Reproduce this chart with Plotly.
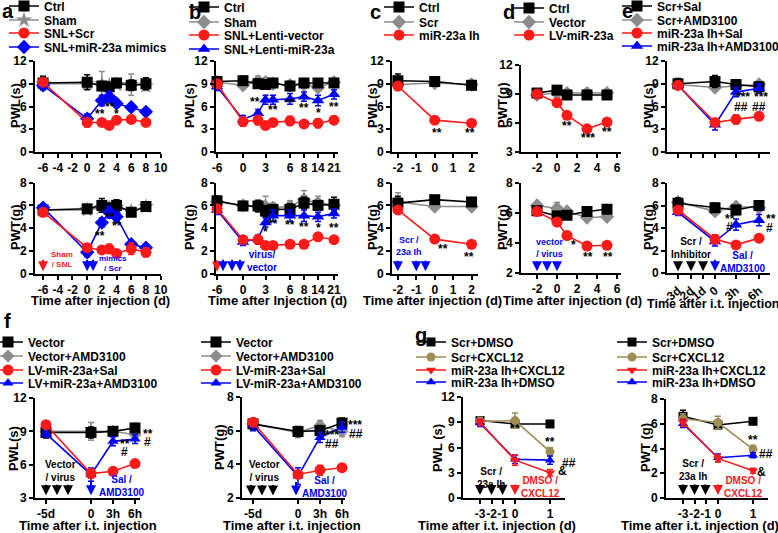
import numpy as np
import plotly.graph_objects as go

W, H = 778, 533
BLACK = '#000000'; GRAY = '#8c8c8c'; RED = '#ff1a1a'; BLUE = '#0000ff'; OLIVE = '#9d8d55'

# ---------------- DATA ----------------
# panel a
a_days = [-6, 0, 2, 3, 4, 6, 8]
a_pwl_ctrl = [9.1, 9.2, 8.7, 8.6, 9.1, 8.8, 9.0]
a_pwl_sham = [9.0, 9.0, 9.0, 8.8, 8.9, 8.9, 8.7]
a_pwl_scr = [9.2, 3.9, 3.9, 3.5, 4.2, 4.3, 3.9]
a_pwl_mim = [8.8, 4.4, 6.8, 7.3, 6.4, 5.9, 5.3]
a_pwl_ctrl_e = [0.9, 1.0, 0.6, 0.5, 0.4, 0.7, 0.8]
a_pwl_sham_e = [0.8, 0.6, 1.6, 0.5, 0.5, 1.4, 0.6]
a_pwl_scr_e = [0.4, 0.6, 0.4, 0.4, 0.4, 0.5, 0.4]
a_pwl_mim_e = [0.5, 0.6, 0.7, 0.6, 0.5, 0.4, 0.4]
a_pwt_ctrl = [5.6, 5.7, 6.0, 5.7, 6.0, 5.4, 5.9]
a_pwt_sham = [5.6, 5.6, 5.8, 5.8, 5.8, 5.5, 5.9]
a_pwt_scr = [5.4, 2.3, 2.1, 2.2, 1.8, 2.2, 1.9]
a_pwt_mim = [5.8, 1.9, 4.5, 5.4, 5.0, 2.6, 2.3]
a_pwt_ctrl_e = [0.3, 0.3, 0.6, 0.5, 0.5, 0.3, 0.4]
a_pwt_sham_e = [0.3, 0.3, 0.4, 0.4, 0.4, 0.3, 0.3]
a_pwt_scr_e = [0.3, 0.3, 0.2, 0.4, 0.2, 0.5, 0.4]
a_pwt_mim_e = [0.3, 0.4, 0.4, 0.5, 0.4, 0.3, 0.3]

# panel b
b_days = [-6, 0, 2, 3, 4, 6, 8, 14, 21]
b_ticks = [-6, 0, 3, 6, 8, 14, 21]
b_pwl_ctrl = [9.3, 9.4, 9.0, 8.9, 9.1, 8.7, 9.1, 9.1, 9.1]
b_pwl_sham = [9.2, 8.8, 9.3, 9.2, 9.0, 8.8, 8.9, 8.5, 9.2]
b_pwl_vec = [9.0, 4.0, 4.2, 3.5, 3.9, 4.1, 3.7, 3.8, 4.2]
b_pwl_mir = [8.6, 4.3, 5.1, 6.9, 6.9, 7.0, 7.3, 6.8, 7.6]
b_pwl_ctrl_e = [0.5, 0.6, 0.6, 0.6, 0.4, 0.6, 0.5, 0.5, 0.5]
b_pwl_sham_e = [0.5, 0.4, 0.7, 0.6, 0.5, 0.4, 0.5, 0.5, 0.5]
b_pwl_vec_e = [0.4, 0.6, 0.6, 0.5, 0.5, 0.6, 0.4, 0.6, 0.5]
b_pwl_mir_e = [0.5, 0.5, 0.5, 0.6, 0.6, 0.7, 0.6, 0.7, 0.6]
b_pwt_ctrl = [6.4, 5.95, 5.95, 5.5, 5.65, 5.65, 6.2, 6.0, 6.1]
b_pwt_sham = [6.3, 6.0, 5.9, 5.9, 5.8, 5.9, 6.5, 6.2, 6.0]
b_pwt_vec = [5.7, 3.0, 3.0, 2.5, 2.5, 2.6, 2.6, 3.25, 3.0]
b_pwt_mir = [5.6, 2.8, 3.1, 4.5, 5.1, 5.1, 5.1, 5.0, 5.3]
b_pwt_ctrl_e = [0.4, 0.3, 0.5, 0.5, 0.4, 0.5, 0.5, 0.4, 0.6]
b_pwt_sham_e = [0.4, 0.3, 0.4, 0.9, 0.4, 0.5, 0.8, 0.6, 0.5]
b_pwt_vec_e = [0.3, 0.3, 0.4, 0.3, 0.2, 0.3, 0.3, 0.3, 0.3]
b_pwt_mir_e = [0.4, 0.3, 0.3, 0.4, 0.5, 0.5, 0.5, 0.4, 0.4]

# panel c
c_days = [-2, 0, 2]
c_pwl_ctrl = [9.4, 9.3, 8.8]
c_pwl_scr = [8.9, 9.1, 8.9]
c_pwl_ih = [8.7, 4.2, 3.8]
c_pwl_ctrl_e = [0.9, 0.4, 0.4]
c_pwl_scr_e = [0.8, 0.5, 0.4]
c_pwl_ih_e = [0.4, 0.4, 0.4]
c_pwt_ctrl = [6.2, 6.5, 6.3]
c_pwt_scr = [6.3, 5.9, 5.9]
c_pwt_ih = [5.6, 3.05, 2.6]
c_pwt_ctrl_e = [0.6, 0.3, 0.3]
c_pwt_scr_e = [0.8, 0.3, 0.3]
c_pwt_ih_e = [0.3, 0.3, 0.3]

# panel d
d_days = [-2, 0, 1, 3, 5]
d_top_ctrl = [9.1, 9.4, 8.9, 8.9, 8.9]
d_top_vec = [8.9, 9.1, 9.1, 9.1, 9.1]
d_top_lv = [9.0, 8.1, 6.8, 5.4, 6.1]
d_top_ctrl_e = [0.3, 0.3, 0.3, 0.3, 0.3]
d_top_vec_e = [0.3, 0.4, 0.3, 0.3, 0.3]
d_top_lv_e = [0.3, 0.3, 0.3, 0.3, 0.3]
d_pwt_ctrl = [6.15, 5.8, 5.85, 6.1, 6.25]
d_pwt_vec = [6.5, 6.3, 6.1, 5.7, 5.75]
d_pwt_lv = [6.1, 5.4, 4.5, 3.8, 3.85]
d_pwt_ctrl_e = [0.2, 0.3, 0.2, 0.2, 0.2]
d_pwt_vec_e = [0.2, 0.4, 0.2, 0.2, 0.2]
d_pwt_lv_e = [0.2, 0.2, 0.2, 0.2, 0.2]

# panel e
e_ticks = ['-3d', '-2d', '-1d', '0', '3h', '6h']
e_times = ['-3d', '0', '3h', '6h']
e_pwl_ss = [9.0, 9.3, 8.9, 8.6]
e_pwl_sa = [8.9, 8.5, 8.7, 8.9]
e_pwl_is = [8.8, 3.9, 4.3, 4.7]
e_pwl_ia = [8.8, 3.6, 7.9, 8.4]
e_pwl_ss_e = [0.7, 0.8, 0.5, 0.6]
e_pwl_sa_e = [0.6, 0.5, 0.5, 0.5]
e_pwl_is_e = [0.4, 0.5, 0.6, 0.4]
e_pwl_ia_e = [0.4, 0.7, 0.6, 0.6]
e_pwt_ss = [6.2, 5.8, 5.6, 6.0]
e_pwt_sa = [6.3, 5.5, 5.9, 5.8]
e_pwt_is = [5.6, 3.0, 2.5, 3.1]
e_pwt_ia = [5.4, 2.8, 4.3, 4.7]
e_pwt_ss_e = [0.5, 0.4, 0.4, 0.4]
e_pwt_sa_e = [0.3, 0.3, 0.3, 0.3]
e_pwt_is_e = [0.3, 0.4, 0.2, 0.3]
e_pwt_ia_e = [0.3, 0.4, 0.5, 0.5]

# panel f
f_times = ['-5d', '0', '3h', '6h']
f_pwl_vec = [8.9, 8.9, 9.0, 9.3]
f_pwl_va = [9.0, 9.0, 9.0, 8.7]
f_pwl_ls = [9.6, 5.2, 5.4, 6.1]
f_pwl_la = [8.8, 5.1, 8.1, 8.3]
f_pwl_vec_e = [0.5, 0.5, 0.3, 0.4]
f_pwl_va_e = [0.4, 0.8, 0.4, 0.4]
f_pwl_ls_e = [0.3, 0.4, 0.3, 0.3]
f_pwl_la_e = [0.3, 0.6, 0.4, 0.4]
f_pwt_vec = [6.4, 5.95, 6.0, 6.45]
f_pwt_va = [6.4, 5.9, 6.3, 5.95]
f_pwt_ls = [6.5, 3.4, 3.65, 3.8]
f_pwt_la = [6.3, 3.3, 5.6, 6.2]
f_pwt_vec_e = [0.3, 0.3, 0.3, 0.3]
f_pwt_va_e = [0.3, 0.3, 0.3, 0.3]
f_pwt_ls_e = [0.2, 0.2, 0.3, 0.2]
f_pwt_la_e = [0.3, 0.5, 0.3, 0.3]

# panel g
g_ticks = [-3, -2, -1, 0, 1]
g_days = [-3, 0, 1]
g_pwl_sd = [9.2, 8.8, 8.8]
g_pwl_sc = [9.1, 9.2, 5.5]
g_pwl_ic = [9.0, 4.5, 3.0]
g_pwl_id = [8.9, 4.6, 4.5]
g_pwl_sd_e = [0.4, 0.5, 0.3]
g_pwl_sc_e = [0.5, 0.9, 0.5]
g_pwl_ic_e = [0.4, 0.6, 0.4]
g_pwl_id_e = [0.4, 0.5, 0.5]
g_pwt_sd = [6.6, 5.9, 6.2]
g_pwt_sc = [6.4, 6.1, 3.95]
g_pwt_ic = [6.1, 3.2, 2.2]
g_pwt_id = [6.0, 3.25, 3.45]
g_pwt_sd_e = [0.5, 0.3, 0.2]
g_pwt_sc_e = [0.4, 0.5, 0.3]
g_pwt_ic_e = [0.3, 0.3, 0.2]
g_pwt_id_e = [0.3, 0.3, 0.2]

# ---------------- SCALES (axis position of each time point) ----------------
B_KNOT_DAYS = [-6, 0, 4, 6, 8, 14, 21]
B_KNOT_POS = [1, 27, 57, 74, 88, 102, 118]
def bpos(d):
    return list(np.interp(d, B_KNOT_DAYS, B_KNOT_POS))
E_POS = {'-3d': 11, '-2d': 24, '-1d': 36, '0': 48, '3h': 69, '6h': 92}
F_POS = {'-5d': 11, '0': 56, '3h': 78, '6h': 100}
G_POS = {-3: 17, -2: 28.5, -1: 39.5, 0: 52, 1: 87}

# ---------------- FIGURE ----------------
fig = go.Figure()
layout = {}
annotations = []
nax = [0]
nleg = [0]

def add_axes(xpx, ypx, xrange, yrange, xtv, xtt, ytv, tickangle=0, xlabels=True):
    nax[0] += 1
    s = '' if nax[0] == 1 else str(nax[0])
    common = dict(showline=True, linecolor='black', linewidth=2, ticks='outside', ticklen=4,
                  tickwidth=2, tickcolor='black', showgrid=False, zeroline=False,
                  tickfont=dict(size=12, color='black'), fixedrange=True)
    layout['xaxis' + s] = dict(domain=[xpx[0] / W, xpx[1] / W], range=xrange, anchor='y' + s,
                               tickmode='array', tickvals=xtv, ticktext=xtt, tickangle=tickangle,
                               showticklabels=xlabels, **common)
    layout['yaxis' + s] = dict(domain=[1 - ypx[1] / H, 1 - ypx[0] / H], range=yrange, anchor='x' + s,
                               tickmode='array', tickvals=ytv, ticktext=[str(v) for v in ytv],
                               tickangle=0, **common)
    return 'x' + s, 'y' + s

def series(ax, x, y, err, name, color, symbol, size, leg=None):
    xa, ya = ax
    kw = dict(showlegend=False)
    if leg is not None:
        nleg[0] += 1
        lid = 'legend' if nleg[0] == 1 else 'legend%d' % nleg[0]
        tx, ry = leg
        layout[lid] = dict(x=(tx - 39) / W, y=1 - (ry - 14.5) / H, xanchor='left', yanchor='top',
                           bgcolor='rgba(0,0,0,0)', borderwidth=0, font=dict(size=12, color='black'),
                           itemclick=False, itemdoubleclick=False)
        kw = dict(showlegend=True, legend=lid)
    fig.add_trace(go.Scatter(x=x, y=y, name=name, mode='lines+markers', xaxis=xa, yaxis=ya,
                             line=dict(color=color, width=1.6),
                             marker=dict(symbol=symbol, size=size, color=color, line=dict(width=0)),
                             error_y=dict(type='data', array=err, color=color, thickness=1.5, width=3),
                             cliponaxis=False, hoverinfo='skip', **kw))

def txt(ax, x, y, t, color='black', size=12, xanchor='center'):
    annotations.append(dict(xref=ax[0], yref=ax[1], x=x, y=y, text=t, showarrow=False,
                            font=dict(color=color, size=size), xanchor=xanchor, yanchor='middle'))

def txt_px(xp, yp, t, color='black', size=12, xanchor='center', angle=0):
    annotations.append(dict(xref='paper', yref='paper', x=xp / W, y=1 - yp / H, text=t, showarrow=False,
                            font=dict(color=color, size=size), xanchor=xanchor, yanchor='middle',
                            textangle=angle))

def arrow(ax, x, ytip, length, color):
    annotations.append(dict(xref=ax[0], yref=ax[1], x=x, y=ytip, ax=0, ay=-length, text='',
                            showarrow=True, arrowhead=2, arrowsize=1, arrowwidth=2, arrowcolor=color))

# ----- panel a -----
A_X = (35, 161)
a_xt = [-6, -4, -2, 0, 2, 4, 6, 8, 10]
aT = add_axes(A_X, (61, 152), [-7.1, 10.05], [0, 12], a_xt, [str(v) for v in a_xt], [0, 3, 6, 9, 12])
aB = add_axes(A_X, (182.5, 274), [-7.1, 10.05], [0, 8], a_xt, [str(v) for v in a_xt], [0, 2, 4, 6, 8])
series(aT, a_days, a_pwl_sham, a_pwl_sham_e, 'Sham', GRAY, 'star', 12, (43, 20))
series(aT, a_days, a_pwl_ctrl, a_pwl_ctrl_e, 'Ctrl', BLACK, 'square', 11, (43, 6))
series(aT, a_days, a_pwl_mim, a_pwl_mim_e, 'SNL+miR-23a mimics', BLUE, 'diamond', 11, (43, 47))
series(aT, a_days, a_pwl_scr, a_pwl_scr_e, 'SNL+Scr', RED, 'circle', 11, (43, 33))
series(aB, a_days, a_pwt_sham, a_pwt_sham_e, 'Sham', GRAY, 'star', 12)
series(aB, a_days, a_pwt_ctrl, a_pwt_ctrl_e, 'Ctrl', BLACK, 'square', 11)
series(aB, a_days, a_pwt_mim, a_pwt_mim_e, 'SNL+miR-23a mimics', BLUE, 'diamond', 11)
series(aB, a_days, a_pwt_scr, a_pwt_scr_e, 'SNL+Scr', RED, 'circle', 11)
txt(aT, 1.8, 5.0, '**'); txt(aT, 3.1, 5.9, '**'); txt(aT, 4.0, 5.0, '*')
txt(aB, 1.8, 3.3, '**'); txt(aB, 3.1, 4.95, '**'); txt(aB, 4.1, 4.2, '**')
arrow(aB, -6, 0.25, 13, RED); arrow(aB, 0, 0.25, 13, BLUE); arrow(aB, 0.8, 0.25, 13, BLUE)
txt(aB, -5.2, 1.25, 'Sham<br>/ SNL', RED, 8, 'left')
txt(aB, 1.4, 0.95, 'mimics<br>/ Scr', BLUE, 8, 'left')
txt_px(15, 106, 'PWL(s)', angle=-90, size=13)
txt_px(15, 228, 'PWT(g)', angle=-90, size=13)
txt_px(100, 300, 'Time after injection (d)', size=13)
txt_px(8, 10.5, 'a', size=20)

# ----- panel b -----
B_X = (216, 338)
bT = add_axes(B_X, (61, 152), [0, 122], [0, 12], bpos(b_ticks), [str(v) for v in b_ticks], [0, 3, 6, 9, 12])
bB = add_axes(B_X, (182.5, 274), [0, 122], [0, 8], bpos(b_ticks), [str(v) for v in b_ticks], [0, 2, 4, 6, 8])
bx = bpos(b_days)
series(bT, bx, b_pwl_sham, b_pwl_sham_e, 'Sham', GRAY, 'diamond', 11, (223, 22))
series(bT, bx, b_pwl_ctrl, b_pwl_ctrl_e, 'Ctrl', BLACK, 'square', 11, (223, 7))
series(bT, bx, b_pwl_mir, b_pwl_mir_e, 'SNL+Lenti-miR-23a', BLUE, 'triangle-up', 11, (223, 49))
series(bT, bx, b_pwl_vec, b_pwl_vec_e, 'SNL+Lenti-vector', RED, 'circle', 11, (223, 35))
series(bB, bx, b_pwt_sham, b_pwt_sham_e, 'Sham', GRAY, 'diamond', 11)
series(bB, bx, b_pwt_ctrl, b_pwt_ctrl_e, 'Ctrl', BLACK, 'square', 11)
series(bB, bx, b_pwt_mir, b_pwt_mir_e, 'SNL+Lenti-miR-23a', BLUE, 'triangle-up', 11)
series(bB, bx, b_pwt_vec, b_pwt_vec_e, 'SNL+Lenti-vector', RED, 'circle', 11)
for (p, y, t) in [(39, 6.6, '**'), (57, 5.5, '**'), (74, 6.5, '**'), (88, 5.75, '**'), (102, 5.2, '*'), (118, 5.9, '**')]:
    txt(bT, p, y, t)
for (p, y, t) in [(49, 3.7, '*'), (57, 4.4, '**'), (74, 4.3, '**'), (88, 4.1, '**'), (102, 4.05, '*'), (118, 4.0, '**')]:
    txt(bB, p, y, t)
arrow(bB, 1, 0.2, 13, RED)
for p in [7, 16, 24]:
    arrow(bB, p, 0.25, 13, BLUE)
txt(bB, -3, 2.3, 'SNL /<br>Sham', RED, 10, 'left')
txt(bB, 29, 1.15, 'virus/<br>vector', BLUE, 10, 'left')
txt_px(189, 106, 'PWL(s)', angle=-90, size=13)
txt_px(189, 228, 'PWT(g)', angle=-90, size=13)
txt_px(277, 300, 'Time after Injection (d)', size=13)
txt_px(195, 12, 'b', size=20)

# ----- panel c -----
C_X = (392, 478)
c_xt = [-2, -1, 0, 1, 2]
cT = add_axes(C_X, (61, 152), [-2.32, 2.35], [0, 12], c_xt, [str(v) for v in c_xt], [0, 3, 6, 9, 12])
cB = add_axes(C_X, (182.5, 274), [-2.32, 2.35], [0, 8], c_xt, [str(v) for v in c_xt], [0, 2, 4, 6, 8])
series(cT, c_days, c_pwl_scr, c_pwl_scr_e, 'Scr', GRAY, 'diamond', 11, (418, 22))
series(cT, c_days, c_pwl_ctrl, c_pwl_ctrl_e, 'Ctrl', BLACK, 'square', 11, (418, 7))
series(cT, c_days, c_pwl_ih, c_pwl_ih_e, 'miR-23a Ih', RED, 'circle', 11, (418, 35))
series(cB, c_days, c_pwt_scr, c_pwt_scr_e, 'Scr', GRAY, 'diamond', 11)
series(cB, c_days, c_pwt_ctrl, c_pwt_ctrl_e, 'Ctrl', BLACK, 'square', 11)
series(cB, c_days, c_pwt_ih, c_pwt_ih_e, 'miR-23a Ih', RED, 'circle', 11)
txt(cT, 0.1, 2.5, '**'); txt(cT, 1.9, 2.5, '**')
txt(cB, 0.45, 2.2, '**'); txt(cB, 1.85, 1.45, '**')
for x in [-2, -1, -0.5]:
    arrow(cB, x, 0.25, 12, BLUE)
txt(cB, -2.2, 2.45, 'Scr /<br>23a Ih', BLUE, 9, 'left')
txt_px(372, 106, 'PWL(s)', angle=-90, size=13)
txt_px(372, 228, 'PWT(g)', angle=-90, size=13)
txt_px(432, 300, 'Time after injection (d)', size=13)
txt_px(375, 12, 'c', size=20)

# ----- panel d -----
D_X = (521, 621)
d_xt = [-2, 0, 2, 4, 6]
dT = add_axes(D_X, (65, 152), [-3.6, 6.4], [3, 12], d_xt, [str(v) for v in d_xt], [3, 6, 9, 12])
dB = add_axes(D_X, (183, 273), [-3.6, 6.4], [2, 8], d_xt, [str(v) for v in d_xt], [2, 4, 6, 8])
series(dT, d_days, d_top_vec, d_top_vec_e, 'Vector', GRAY, 'diamond', 11, (548, 22))
series(dT, d_days, d_top_ctrl, d_top_ctrl_e, 'Ctrl', BLACK, 'square', 11, (548, 8))
series(dT, d_days, d_top_lv, d_top_lv_e, 'LV-miR-23a', RED, 'circle', 11, (548, 35))
series(dB, d_days, d_pwt_vec, d_pwt_vec_e, 'Vector', GRAY, 'diamond', 11)
series(dB, d_days, d_pwt_ctrl, d_pwt_ctrl_e, 'Ctrl', BLACK, 'square', 11)
series(dB, d_days, d_pwt_lv, d_pwt_lv_e, 'LV-miR-23a', RED, 'circle', 11)
txt(dT, 1.0, 5.7, '**'); txt(dT, 3.1, 4.5, '***'); txt(dT, 5.0, 5.1, '**')
txt(dB, 1.6, 3.9, '*'); txt(dB, 3.1, 3.1, '**'); txt(dB, 5.1, 3.1, '**')
for x in [-2, -1, 0]:
    arrow(dB, x, 2.12, 11, BLUE)
txt(dB, -2.3, 3.7, 'vector<br>/ virus', BLUE, 9, 'left')
txt_px(502, 106, 'PWT(g)', angle=-90, size=13)
txt_px(502, 228, 'PWT(g)', angle=-90, size=13)
txt_px(572, 300, 'Time after injection (d)', size=13)
txt_px(509, 12, 'd', size=20)

# ----- panel e -----
E_X = (667, 770)
e_tv = [E_POS[t] for t in e_ticks]
eT = add_axes(E_X, (61, 152), [0, 103], [0, 12], e_tv, e_ticks, [0, 3, 6, 9, 12], xlabels=False)
eB = add_axes(E_X, (183, 273), [0, 103], [0, 8], e_tv, e_ticks, [0, 2, 4, 6, 8], tickangle=-40)
ex = [E_POS[t] for t in e_times]
series(eT, ex, e_pwl_sa, e_pwl_sa_e, 'Scr+AMD3100', GRAY, 'diamond', 11, (656, 20))
series(eT, ex, e_pwl_ss, e_pwl_ss_e, 'Scr+Sal', BLACK, 'square', 11, (656, 6))
series(eT, ex, e_pwl_ia, e_pwl_ia_e, 'miR-23a Ih+AMD3100', BLUE, 'triangle-up', 11, (656, 46))
series(eT, ex, e_pwl_is, e_pwl_is_e, 'miR-23a Ih+Sal', RED, 'circle', 11, (656, 33))
series(eB, ex, e_pwt_sa, e_pwt_sa_e, 'Scr+AMD3100', GRAY, 'diamond', 11)
series(eB, ex, e_pwt_ss, e_pwt_ss_e, 'Scr+Sal', BLACK, 'square', 11)
series(eB, ex, e_pwt_ia, e_pwt_ia_e, 'miR-23a Ih+AMD3100', BLUE, 'triangle-up', 11)
series(eB, ex, e_pwt_is, e_pwt_is_e, 'miR-23a Ih+Sal', RED, 'circle', 11)
txt(eT, 76, 7.3, '***'); txt(eT, 74, 6.0, '##'); txt(eT, 94, 7.3, '***'); txt(eT, 92, 6.0, '##')
txt(eB, 63, 4.8, '**'); txt(eB, 62, 4.1, '#')
txt_px(771, 219, '**'); txt_px(769, 228, '#')
for t in ['-3d', '-2d', '-1d']:
    arrow(eB, E_POS[t], 0.15, 10, BLACK)
arrow(eB, E_POS['0'], 0.15, 13, BLUE)
txt(eB, 2, 2.2, 'Scr /<br>Inhibitor', BLACK, 10, 'left')
txt(eB, 51, 1.0, 'Sal /<br>AMD3100', BLUE, 10, 'left')
txt_px(648, 106, 'PWL(s)', angle=-90, size=13)
txt_px(648, 228, 'PWT(g)', angle=-90, size=13)
txt_px(713, 304, 'Time after i.t. injection', size=12.5)
txt_px(627, 10.5, 'e', size=20)

# ----- panel f -----
f_tv = [F_POS[t] for t in f_times]
fL = add_axes((35, 140), (398, 498), [0, 105], [3, 12], f_tv, f_times, [3, 6, 9, 12])
fR = add_axes((242, 345), (397, 498), [0, 103], [2, 8], f_tv, f_times, [2, 4, 6, 8])
fx = [F_POS[t] for t in f_times]
series(fL, fx, f_pwl_va, f_pwl_va_e, 'Vector+AMD3100', GRAY, 'diamond', 10, (27, 356))
series(fL, fx, f_pwl_vec, f_pwl_vec_e, 'Vector', BLACK, 'square', 11, (27, 342))
series(fL, fx, f_pwl_la, f_pwl_la_e, 'LV+miR-23a+AMD3100', BLUE, 'triangle-up', 10, (27, 383))
series(fL, fx, f_pwl_ls, f_pwl_ls_e, 'LV-miR-23a+Sal', RED, 'circle', 11, (27, 370))
series(fR, fx, f_pwt_va, f_pwt_va_e, 'Vector+AMD3100', GRAY, 'diamond', 10, (235, 356))
series(fR, fx, f_pwt_vec, f_pwt_vec_e, 'Vector', BLACK, 'square', 11, (235, 342))
series(fR, fx, f_pwt_la, f_pwt_la_e, 'LV-miR-23a+AMD3100', BLUE, 'triangle-up', 10, (235, 383))
series(fR, fx, f_pwt_ls, f_pwt_ls_e, 'LV-miR-23a+Sal', RED, 'circle', 11, (235, 370))
txt(fL, 90, 7.9, '**'); txt(fL, 89, 7.1, '#')
txt_px(148, 434, '**'); txt_px(147, 442, '#')
txt(fR, 90, 5.75, '***'); txt(fR, 90, 5.2, '##')
txt_px(355, 425, '***'); txt_px(356, 434, '##')
for p in [11, 22, 33]:
    arrow(fL, p, 3.25, 12, BLACK)
    arrow(fR, p - 2, 2.15, 12, BLACK)
arrow(fL, F_POS['0'], 3.25, 15, BLUE)
arrow(fR, F_POS['0'] - 2, 2.15, 15, BLUE)
txt(fL, 8, 5.4, 'Vector<br>/ virus', BLACK, 10, 'left')
txt(fL, 62, 4.05, 'Sal /<br>AMD3100', BLUE, 10, 'left')
txt(fR, 5, 3.6, 'Vector<br>/ virus', BLACK, 10, 'left')
txt(fR, 58, 2.65, 'Sal /<br>AMD3100', BLUE, 10, 'left')
txt_px(13, 448, 'PWL(s)', angle=-90, size=13)
txt_px(219, 448, 'PWT(g)', angle=-90, size=13)
txt_px(88, 525, 'Time after i.t. injection', size=13)
txt_px(292, 525, 'Time after i.t. injection', size=13)
txt_px(8, 321, 'f', size=20)

# ----- panel g -----
g_tv = [G_POS[t] for t in g_ticks]
gL = add_axes((463, 565), (397, 498), [0, 102], [0, 12], g_tv, [str(v) for v in g_ticks], [0, 3, 6, 9, 12])
gR = add_axes((666, 768), (399, 498), [0, 102], [0, 8], g_tv, [str(v) for v in g_ticks], [0, 2, 4, 6, 8])
gx = [G_POS[d] for d in g_days]
for ax, vals, errs, lx in [(gL, (g_pwl_sd, g_pwl_sc, g_pwl_ic, g_pwl_id), (g_pwl_sd_e, g_pwl_sc_e, g_pwl_ic_e, g_pwl_id_e), 450),
                           (gR, (g_pwt_sd, g_pwt_sc, g_pwt_ic, g_pwt_id), (g_pwt_sd_e, g_pwt_sc_e, g_pwt_ic_e, g_pwt_id_e), 651)]:
    series(ax, gx, vals[0], errs[0], 'Scr+DMSO', BLACK, 'square', 9, (lx, 342))
    series(ax, gx, vals[1], errs[1], 'Scr+CXCL12', OLIVE, 'circle', 9, (lx, 357))
    series(ax, gx, vals[3], errs[3], 'miR-23a Ih+DMSO', BLUE, 'triangle-up', 9, (lx, 382))
    series(ax, gx, vals[2], errs[2], 'miR-23a Ih+CXCL12', RED, 'triangle-down', 9, (lx, 370))
txt(gL, 87, 6.7, '**')
txt_px(569, 463, '##'); txt_px(562, 471, '&')
txt(gR, 87, 4.7, '**')
txt_px(766, 454, '##'); txt_px(761, 472, '&')
for d in [-3, -2, -1]:
    arrow(gL, G_POS[d], 0.35, 12, BLACK)
    arrow(gR, G_POS[d], 0.25, 12, BLACK)
arrow(gL, G_POS[0], 0.35, 12, RED)
arrow(gR, G_POS[0], 0.25, 12, RED)
txt(gL, 12, 2.4, 'Scr /<br>23a Ih', BLACK, 10, 'left')
txt(gL, 56, 1.3, 'DMSO /<br>CXCL12', RED, 10, 'left')
txt(gR, 11, 2.25, 'Scr /<br>23a Ih', BLACK, 10, 'left')
txt(gR, 56, 0.9, 'DMSO /<br>CXCL12', RED, 10, 'left')
txt_px(437, 448, 'PWL (s)', angle=-90, size=13)
txt_px(645, 448, 'PWT (g)', angle=-90, size=13)
txt_px(497, 525, 'Time after i.t. injection (d)', size=13)
txt_px(700, 525, 'Time after i.t. injection (d)', size=13)
txt_px(421, 335, 'g', size=20)

layout['annotations'] = annotations
fig.update_layout(**layout)
fig.update_layout(width=W, height=H, margin=dict(l=0, r=0, t=0, b=0, autoexpand=False),
                  paper_bgcolor='white', plot_bgcolor='white', hovermode=False,
                  font=dict(family='Liberation Sans, Arial, sans-serif', color='black', size=12, weight='bold'))
fig.write_html('out.html', config={'displayModeBar': False},
               post_script="document.body.style.margin='0px';document.body.style.overflow='hidden';")
